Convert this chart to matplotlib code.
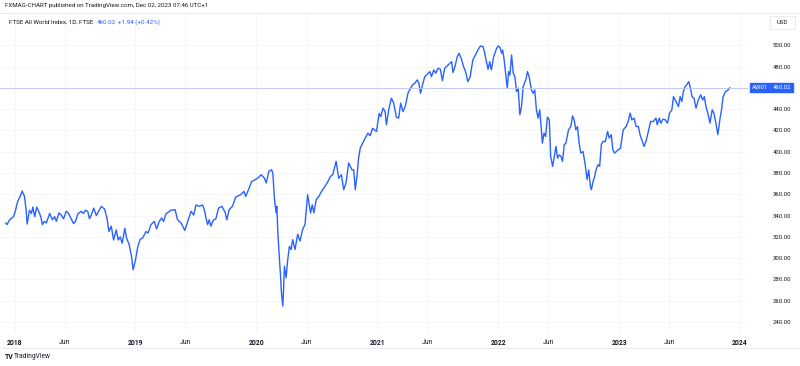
import matplotlib
matplotlib.use("Agg")
import matplotlib.pyplot as plt
import matplotlib.dates as mdates
import pandas as pd
import numpy as np

plt.rcParams['font.family'] = ['Roboto', 'DejaVu Sans']

dates = [
 "2017-12-05","2017-12-09","2017-12-17","2017-12-29","2018-01-04","2018-01-10","2018-01-18","2018-01-24",
 "2018-01-31","2018-02-05","2018-02-08","2018-02-15","2018-02-21","2018-02-25","2018-03-03","2018-03-09",
 "2018-03-15","2018-03-21","2018-03-26","2018-04-01","2018-04-07","2018-04-17","2018-04-25","2018-05-02",
 "2018-05-07","2018-05-15","2018-05-23","2018-05-29","2018-06-06","2018-06-13","2018-06-21","2018-06-28",
 "2018-07-04","2018-07-11","2018-07-21","2018-07-28","2018-08-03","2018-08-10","2018-08-15","2018-08-20",
 "2018-08-28","2018-09-05","2018-09-12","2018-09-20","2018-09-30","2018-10-07","2018-10-13","2018-10-20",
 "2018-10-27","2018-11-04","2018-11-10","2018-11-16","2018-11-22","2018-11-30","2018-12-05","2018-12-13",
 "2018-12-20","2018-12-25",
 "2019-01-01","2019-01-08","2019-01-15","2019-01-23","2019-02-02","2019-02-08","2019-02-17","2019-02-27",
 "2019-03-06","2019-03-14","2019-03-21","2019-03-27","2019-04-03","2019-04-18","2019-05-01","2019-05-08",
 "2019-05-19","2019-05-30","2019-06-08","2019-06-18","2019-06-26","2019-07-03","2019-07-13","2019-07-23",
 "2019-07-28","2019-08-02","2019-08-07","2019-08-12","2019-08-17","2019-08-24","2019-09-01","2019-09-09",
 "2019-09-19","2019-09-29","2019-10-04","2019-10-11","2019-10-21","2019-10-31","2019-11-15","2019-11-25",
 "2019-11-30","2019-12-08","2019-12-18",
 "2020-01-05","2020-01-16","2020-01-26","2020-01-31","2020-02-08","2020-02-16","2020-02-20","2020-02-25",
 "2020-03-01","2020-03-03","2020-03-06","2020-03-11","2020-03-14","2020-03-17","2020-03-21","2020-03-23",
 "2020-03-26","2020-03-31","2020-04-05","2020-04-10","2020-04-15","2020-04-20","2020-04-27","2020-05-05",
 "2020-05-12","2020-05-20","2020-05-27","2020-06-04","2020-06-08","2020-06-13","2020-06-18","2020-06-23",
 "2020-06-30","2020-07-08","2020-07-16","2020-07-23","2020-08-02","2020-08-12","2020-08-19","2020-08-29",
 "2020-09-06","2020-09-14","2020-09-21","2020-09-28","2020-10-06","2020-10-16","2020-10-21","2020-10-26",
 "2020-10-31","2020-11-05","2020-11-10","2020-11-17","2020-11-25","2020-12-03","2020-12-10","2020-12-17",
 "2020-12-29",
 "2021-01-06","2021-01-11","2021-01-18","2021-01-24","2021-01-28","2021-02-04","2021-02-12","2021-02-19",
 "2021-02-27","2021-03-06","2021-03-12","2021-03-19","2021-03-26","2021-04-03","2021-04-11","2021-04-17",
 "2021-04-24","2021-05-01","2021-05-06","2021-05-11","2021-05-17","2021-05-24","2021-06-03","2021-06-08",
 "2021-06-13","2021-06-20","2021-06-26","2021-07-03","2021-07-10","2021-07-16","2021-07-23","2021-07-30",
 "2021-08-07","2021-08-13","2021-08-17","2021-08-23","2021-08-30","2021-09-04","2021-09-11","2021-09-18",
 "2021-09-24","2021-10-01","2021-10-08","2021-10-16","2021-10-24","2021-10-31","2021-11-08","2021-11-16",
 "2021-11-21","2021-11-26","2021-12-01","2021-12-06","2021-12-11","2021-12-18","2021-12-27",
 "2022-01-01","2022-01-06","2022-01-11","2022-01-14","2022-01-18","2022-01-23","2022-01-28","2022-02-01",
 "2022-02-05","2022-02-10","2022-02-15","2022-02-20","2022-02-25","2022-03-02","2022-03-07","2022-03-12",
 "2022-03-17","2022-03-25","2022-03-30","2022-04-04","2022-04-11","2022-04-16","2022-04-21","2022-04-26",
 "2022-05-01","2022-05-06","2022-05-11","2022-05-14","2022-05-19","2022-05-24","2022-05-29","2022-06-04",
 "2022-06-08","2022-06-14","2022-06-19","2022-06-24","2022-06-29","2022-07-04","2022-07-09","2022-07-14",
 "2022-07-19","2022-07-24","2022-08-01","2022-08-08","2022-08-13","2022-08-18","2022-08-23","2022-08-28",
 "2022-09-02","2022-09-07","2022-09-14","2022-09-21","2022-09-26","2022-10-01","2022-10-06","2022-10-09",
 "2022-10-14","2022-10-19","2022-10-23","2022-10-29","2022-11-03","2022-11-08","2022-11-13","2022-11-20",
 "2022-11-27","2022-12-02","2022-12-08","2022-12-13","2022-12-18","2022-12-29",
 "2023-01-05","2023-01-13","2023-01-22","2023-01-28","2023-02-03","2023-02-08","2023-02-15","2023-02-21",
 "2023-02-28","2023-03-05","2023-03-12","2023-03-17","2023-03-23","2023-03-30","2023-04-06","2023-04-14",
 "2023-04-22","2023-04-26","2023-05-02","2023-05-07","2023-05-13","2023-05-20","2023-05-27","2023-06-02",
 "2023-06-09","2023-06-14","2023-06-19","2023-06-24","2023-06-29","2023-07-04","2023-07-09","2023-07-14",
 "2023-07-19","2023-07-24","2023-07-30","2023-08-03","2023-08-09","2023-08-15","2023-08-21","2023-08-28",
 "2023-09-04","2023-09-10","2023-09-15","2023-09-20","2023-09-27","2023-10-02","2023-10-09","2023-10-14",
 "2023-10-20","2023-10-26","2023-11-01","2023-11-06","2023-11-11","2023-11-18","2023-11-24","2023-12-01",
]

values = [
 333,331.5,336,339,345,353,358,363,
 358,345,332,345,342,348,339,348,
 344,339,331.5,334.5,333,342,336,339,
 334.5,342.5,340,337,344,342,337,332.5,
 334.5,341.5,344,342,345,344,337,340,
 347,340,344,348.6,346,337.7,325,330,
 317,326.5,317,320,314,328,319,312.7,
 302,289,
 298,310.5,317.5,319,325,323.5,331.5,334.5,
 327.5,334.5,337.7,334.5,341.5,345,345.5,336,
 333,326,334.5,344,340.5,350,348.7,350,
 345.5,337.7,331.5,336,330,335.5,337,347,
 348.7,343,336,345.5,348.7,357.5,359.6,362.7,
 358,364,372,
 375,378.4,375,370.6,381.5,383,380,355,
 342.5,348.7,325,298.6,284.6,267.5,255,267.5,
 292.4,281.5,298.6,311,308,317.4,308,322.4,
 316,327,331.5,359.6,351.8,342.5,350,342.5,
 355,358,362.7,366,370.6,376.8,378.4,391,
 375,378.4,364.3,370.6,389.4,383,383,364.3,
 376.8,394,403.4,408,412.8,417.5,415,422,
 419,
 436,433,441,437.8,425.3,439.4,450.3,445.6,
 432.5,431.6,445.6,437.8,442.5,455,459.7,462.8,
 464.4,467.5,464.4,455,462.8,470.6,473.8,475.3,
 470.6,476.9,473.8,478.5,477.5,466.8,478.5,480.6,
 483,484.7,474.4,480,489.4,492.5,487.8,480,
 475.3,465.9,470.6,486.3,491,495.6,499.4,498.8,
 492.5,484.7,477.5,484.7,476.9,489.4,497.3,
 499.4,498,492.5,495.6,487.8,473.8,459.7,475.3,
 472,491,473.8,470.6,456.5,459.7,434.7,442.5,
 461.3,467.5,475.3,470.6,458,455,458,439.4,
 431.6,439.4,420.6,408,417.5,414.3,432.5,430,
 395.6,386.2,395.6,405,394,397,395.6,390.9,
 406.6,408,420.6,423.7,433.7,430,420.6,423.7,
 408,398.7,400.2,386.2,373.7,383,367.5,364.3,
 372,376.8,383,387.8,386.2,406.6,409.7,409.5,
 419,412.8,416,401.8,398.7,401.8,
 403.4,420.6,423.7,428.4,436.3,430,431.6,423.7,
 423.7,416,409.7,405,409.7,419,428.4,428.4,
 431.6,425.3,431.6,426.9,430.6,430,426.9,436.3,
 439.4,451.8,448.7,445.6,442.5,451.8,447.1,456.5,
 461.3,462.8,465.9,461.3,451.8,450.3,441,448.7,
 453.4,448.7,451.8,442.5,434.7,426.9,439.4,436.3,
 426.9,416,430,439.4,451.8,456.5,457.5,460.02,
]

last_price = 460.02
change = 1.94
change_pct = 0.42
price_ticks = [240, 260, 280, 300, 320, 340, 360, 380, 400, 420, 440, 460, 480, 500]
x_tick_dates = ["2018-01-01","2018-06-01","2019-01-01","2019-06-01","2020-01-01","2020-06-01",
                "2021-01-01","2021-06-01","2022-01-01","2022-06-01","2023-01-01","2023-06-01","2024-01-01"]
x_tick_labels = ["2018","Jun","2019","Jun","2020","Jun","2021","Jun","2022","Jun","2023","Jun","2024"]

BLUE = "#2962FF"
TXT = "#131722"
W, H = 800, 366

fig = plt.figure(figsize=(8, 3.66), dpi=100)
fig.patch.set_facecolor("white")

# plot area in pixels: x 0..748, y 13..333
ax = fig.add_axes([0, (H - 333) / H, 748 / W, (333 - 13) / H])
ax.set_facecolor("white")
for s in ax.spines.values():
    s.set_visible(False)

d = pd.to_datetime(dates)
ax.plot(d, values, color=BLUE, lw=1.0, solid_joinstyle="round")

ax.set_ylim(229.6, 530.4)
ax.set_xlim(pd.Timestamp("2017-11-18"), pd.Timestamp("2024-01-25"))

# grid
ax.set_yticks(price_ticks)
xt = pd.to_datetime(x_tick_dates)
ax.set_xticks(xt)
ax.grid(True, color="#f3f5fa", lw=0.6)
ax.set_axisbelow(True)

# last price line
ax.axhline(last_price, color="#b8c6f5", lw=0.6)

# y tick labels right side
ax.yaxis.tick_right()
ax.tick_params(axis="y", length=0, pad=31, labelsize=4.3, labelcolor=TXT)
ax.set_yticklabels([f"{v:.2f}" for v in price_ticks])
for lab in ax.get_yticklabels():
    lab.set_horizontalalignment("right")

ax.tick_params(axis="x", length=0, pad=4.5, labelsize=4.9, labelcolor=TXT)
ax.set_xticklabels(x_tick_labels)
for lab, t in zip(ax.get_xticklabels(), x_tick_labels):
    if t != "Jun":
        lab.set_fontweight("bold")

# price label box
yfrac = (last_price - 229.6) / (530.4 - 229.6)
ypix = 333 - yfrac * (333 - 13)
fig.patches.append(plt.Rectangle((750 / W, (H - ypix - 4.5) / H), 43 / W, 9 / H,
                                 transform=fig.transFigure, color=BLUE, zorder=5))
fig.text(752 / W, (H - ypix) / H, "AW01", color="white", fontsize=4.3, va="center", ha="left", zorder=6)
fig.text(791 / W, (H - ypix) / H, f"{last_price:.2f}", color="white", fontsize=4.3, va="center", ha="right", zorder=6)

# USD box
fig.patches.append(plt.Rectangle((770 / W, (H - 29) / H), 25 / W, 13 / H, transform=fig.transFigure,
                                 facecolor="white", edgecolor="#e0e3eb", lw=0.5))
fig.text(782.5 / W, (H - 22.5) / H, "USD", color=TXT, fontsize=4.3, va="center", ha="center")

# frame lines
fig.add_artist(plt.Line2D([0, 1], [(H - 13) / H] * 2, transform=fig.transFigure, color="#e0e3eb", lw=0.5))
fig.add_artist(plt.Line2D([0, 1], [(H - 348) / H] * 2, transform=fig.transFigure, color="#e0e3eb", lw=0.5))

# header
fig.text(5 / W, (H - 6) / H, "FXMAG-CHART published on TradingView.com, Dec 02, 2023 07:46 UTC+1",
         color=TXT, fontsize=4.4, va="center", ha="left")
fig.text(9 / W, (H - 22) / H, "FTSE All World Index, 1D, FTSE", color=TXT, fontsize=4.5, va="center", ha="left")
fig.text(97 / W, (H - 22) / H, f"{last_price:.2f}", color=BLUE, fontsize=4.5, va="center", ha="left")
fig.text(118 / W, (H - 22) / H, f"+{change:.2f} (+{change_pct:.2f}%)", color=BLUE, fontsize=4.5, va="center", ha="left")

# footer
fig.text(5 / W, (H - 357) / H, "TV", color=TXT, fontsize=5, fontweight="bold", va="center", ha="left")
fig.text(14 / W, (H - 357) / H, "TradingView", color=TXT, fontsize=4.8, va="center", ha="left")

fig.savefig("out.png", dpi=100)
